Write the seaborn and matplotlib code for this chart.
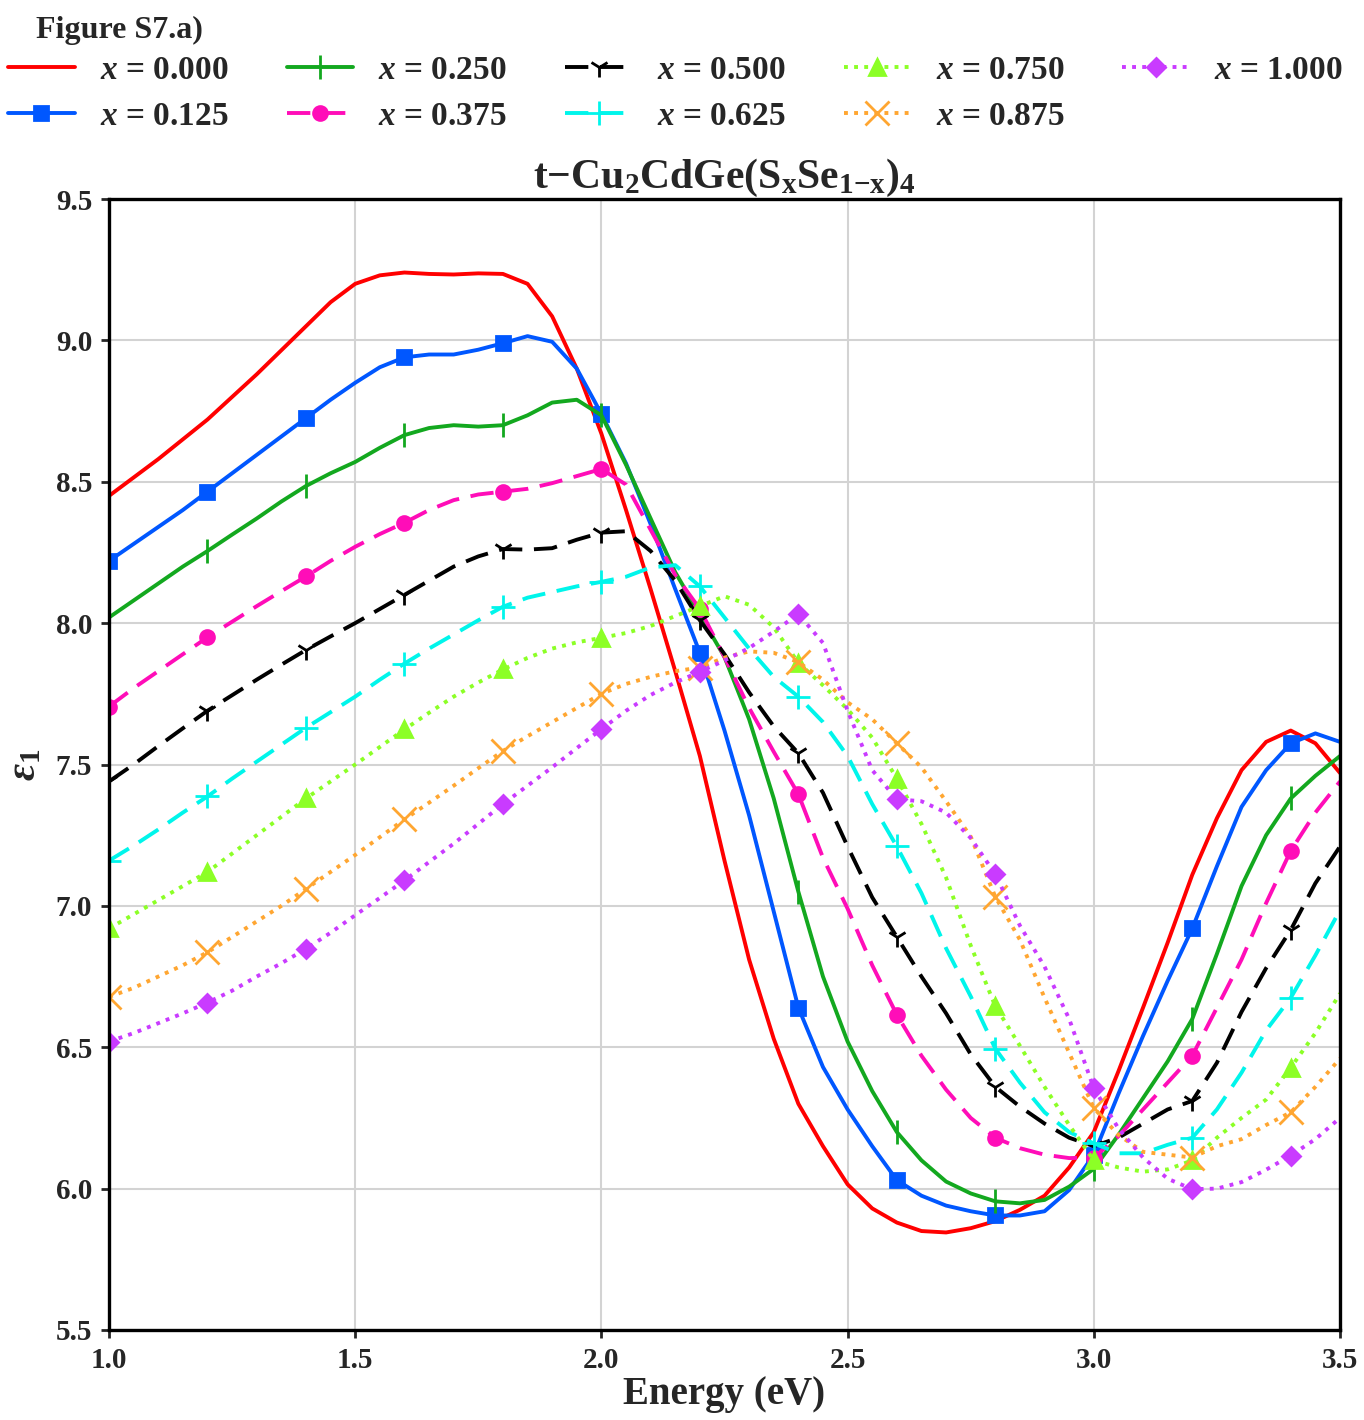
import numpy as np
import matplotlib
matplotlib.use('Agg')
import matplotlib.pyplot as plt
import seaborn as sns

# photon energy grid (eV), 0.05 eV step
energy = np.linspace(1.0, 3.5, 51)

eps_000 = [8.45, 8.515, 8.58, 8.65, 8.72, 8.80, 8.88, 8.965, 9.05, 9.135, 9.20, 9.23, 9.24,
           9.235, 9.233, 9.237, 9.235, 9.20, 9.085, 8.90, 8.67, 8.40, 8.12, 7.83, 7.53, 7.16,
           6.81, 6.53, 6.30, 6.15, 6.015, 5.93, 5.88, 5.85, 5.845, 5.86, 5.885, 5.925, 5.975,
           6.075, 6.20, 6.415, 6.64, 6.87, 7.11, 7.31, 7.48, 7.58, 7.62, 7.575, 7.47]
eps_125 = [8.22, 8.28, 8.34, 8.40, 8.465, 8.53, 8.595, 8.66, 8.725, 8.79, 8.85, 8.905, 8.94,
           8.95, 8.95, 8.967, 8.99, 9.015, 8.995, 8.90, 8.74, 8.565, 8.35, 8.12, 7.895, 7.62,
           7.32, 6.98, 6.64, 6.43, 6.28, 6.15, 6.03, 5.975, 5.94, 5.92, 5.905, 5.905, 5.92,
           5.995, 6.12, 6.335, 6.54, 6.735, 6.92, 7.14, 7.35, 7.48, 7.575, 7.61, 7.58]
eps_250 = [8.02, 8.08, 8.14, 8.20, 8.255, 8.313, 8.37, 8.43, 8.485, 8.53, 8.57, 8.62, 8.665,
           8.69, 8.70, 8.695, 8.70, 8.735, 8.78, 8.79, 8.735, 8.56, 8.37, 8.18, 8.03, 7.88,
           7.66, 7.38, 7.05, 6.75, 6.52, 6.345, 6.20, 6.10, 6.025, 5.983, 5.955, 5.948, 5.96,
           6.007, 6.07, 6.19, 6.32, 6.45, 6.60, 6.83, 7.07, 7.25, 7.38, 7.46, 7.53]
eps_375 = [7.705, 7.77, 7.83, 7.89, 7.95, 8.005, 8.06, 8.113, 8.165, 8.22, 8.27, 8.315, 8.355,
           8.40, 8.435, 8.455, 8.465, 8.475, 8.495, 8.52, 8.545, 8.49, 8.33, 8.17, 8.05, 7.88,
           7.70, 7.545, 7.395, 7.17, 6.99, 6.79, 6.615, 6.47, 6.35, 6.25, 6.18, 6.143, 6.12,
           6.108, 6.11, 6.185, 6.28, 6.375, 6.47, 6.64, 6.81, 7.01, 7.195, 7.33, 7.44]
eps_500 = [7.44, 7.50, 7.565, 7.628, 7.69, 7.745, 7.80, 7.853, 7.905, 7.953, 8.00, 8.05, 8.10,
           8.15, 8.20, 8.236, 8.262, 8.26, 8.265, 8.295, 8.32, 8.325, 8.255, 8.15, 8.01, 7.89,
           7.755, 7.635, 7.54, 7.40, 7.21, 7.03, 6.89, 6.75, 6.62, 6.475, 6.36, 6.29, 6.23,
           6.18, 6.15, 6.18, 6.23, 6.28, 6.31, 6.445, 6.625, 6.78, 6.915, 7.08, 7.21]
eps_625 = [7.16, 7.213, 7.27, 7.33, 7.387, 7.45, 7.51, 7.57, 7.63, 7.685, 7.74, 7.80, 7.857,
           7.91, 7.96, 8.01, 8.058, 8.09, 8.11, 8.13, 8.146, 8.164, 8.197, 8.205, 8.13, 8.02,
           7.91, 7.81, 7.74, 7.65, 7.53, 7.36, 7.21, 7.045, 6.85, 6.68, 6.495, 6.375, 6.27,
           6.20, 6.16, 6.125, 6.125, 6.155, 6.18, 6.28, 6.41, 6.56, 6.675, 6.825, 6.985]
eps_750 = [6.92, 6.97, 7.02, 7.07, 7.12, 7.185, 7.25, 7.315, 7.38, 7.44, 7.50, 7.562, 7.624,
           7.683, 7.74, 7.79, 7.836, 7.877, 7.91, 7.932, 7.948, 7.965, 7.99, 8.025, 8.06, 8.095,
           8.065, 7.985, 7.86, 7.78, 7.695, 7.595, 7.45, 7.29, 7.10, 6.86, 6.645, 6.505, 6.36,
           6.225, 6.10, 6.075, 6.06, 6.068, 6.10, 6.18, 6.25, 6.315, 6.428, 6.55, 6.69]
eps_875 = [6.678, 6.71, 6.75, 6.79, 6.836, 6.89, 6.945, 7.00, 7.06, 7.12, 7.18, 7.243, 7.306,
           7.365, 7.425, 7.487, 7.548, 7.60, 7.65, 7.70, 7.75, 7.785, 7.81, 7.83, 7.843, 7.878,
           7.90, 7.895, 7.862, 7.80, 7.72, 7.66, 7.575, 7.49, 7.37, 7.245, 7.032, 6.88, 6.675,
           6.48, 6.285, 6.19, 6.13, 6.12, 6.11, 6.15, 6.175, 6.225, 6.27, 6.36, 6.46]
eps_1000 = [6.52, 6.55, 6.585, 6.62, 6.658, 6.70, 6.75, 6.797, 6.848, 6.905, 6.967, 7.028, 7.09,
            7.155, 7.22, 7.29, 7.36, 7.425, 7.49, 7.558, 7.625, 7.69, 7.746, 7.79, 7.828, 7.868,
            7.912, 7.97, 8.032, 7.93, 7.69, 7.48, 7.377, 7.37, 7.33, 7.24, 7.112, 6.93, 6.785,
            6.60, 6.355, 6.213, 6.11, 6.035, 5.998, 6.00, 6.023, 6.067, 6.117, 6.175, 6.25]

labels = ['0.000', '0.125', '0.250', '0.375', '0.500', '0.625', '0.750', '0.875', '1.000']
series = [eps_000, eps_125, eps_250, eps_375, eps_500, eps_625, eps_750, eps_875, eps_1000]

colors = ['#FF0000', '#0057FF', '#13A81F', '#FF0DB8', '#000000',
          '#00F5EB', '#8CFF26', '#FFA631', '#C93BFF']
dash = (0, (6.0, 3.0))
dot = (0, (1, 1.6))
styles = ['-', '-', '-', dash, dash, dash, dot, dot, dot]
markers = ['None', 's', '|', 'o', '1', '+', '^', 'x', 'D']
msizes = [0, 10, 17, 10, 15, 17, 11, 17, 9]

sns.set_style('ticks')
plt.rcParams['font.family'] = ['Liberation Serif', 'DejaVu Serif']
plt.rcParams['font.weight'] = 'bold'
plt.rcParams['mathtext.fontset'] = 'custom'
plt.rcParams['mathtext.rm'] = 'Liberation Serif:bold'
plt.rcParams['mathtext.bf'] = 'Liberation Serif:bold'
plt.rcParams['mathtext.it'] = 'Liberation Serif:italic:bold'

fig = plt.figure(figsize=(13.64, 14.2), dpi=100)
ax = fig.add_axes([109 / 1364, 1 - 1330 / 1420, 1231 / 1364, 1131 / 1420])

for lab, vals, c, ls, m, ms in zip(labels, series, colors, styles, markers, msizes):
    sns.lineplot(x=energy, y=vals, ax=ax, color=c, linestyle=ls, linewidth=2.8,
                 marker=m, markersize=ms, markevery=4, markeredgecolor=c,
                 markerfacecolor=c, markeredgewidth=2, label=r'$x$ = ' + lab,
                 legend=False)
for ln in ax.lines:
    ln.set_linewidth(2.8)

ax.set_xlim(1.0, 3.5)
ax.set_ylim(5.5, 9.5)
ax.set_xticks(np.arange(1.0, 3.51, 0.5))
ax.set_yticks(np.arange(5.5, 9.51, 0.5))
ax.xaxis.set_major_formatter(matplotlib.ticker.FormatStrFormatter('%.1f'))
ax.yaxis.set_major_formatter(matplotlib.ticker.FormatStrFormatter('%.1f'))
ax.grid(True, color='#d3d3d3', linewidth=1.5)
ax.set_axisbelow(True)
ax.tick_params(direction='out', length=6, width=2, labelsize=21, pad=6)
for sp in ax.spines.values():
    sp.set_visible(True)
    sp.set_linewidth(2.4)
    sp.set_color('black')

ax.set_xlabel('Energy (eV)', fontsize=28, fontweight='bold', labelpad=2)
ax.set_ylabel(r'$\varepsilon_1$', fontsize=30, labelpad=8)
ax.set_title(r'$\mathrm{t{-}Cu_2CdGe(S_xSe_{1{-}x})_4}$', fontsize=30, pad=5)

fig.text(36 / 1364, 1 - 38 / 1420, 'Figure S7.a)', fontsize=23, fontweight='bold',
         va='baseline', ha='left')

handles, labs = ax.get_legend_handles_labels()
fig.legend(handles, labs, loc='upper left', bbox_to_anchor=(8 / 1364, 1 - 55 / 1420),
           ncol=5, frameon=False, fontsize=24, handlelength=2.0, handletextpad=0.75,
           columnspacing=1.75, labelspacing=0.45, borderpad=0, borderaxespad=0)

fig.savefig('out.png', dpi=100)
